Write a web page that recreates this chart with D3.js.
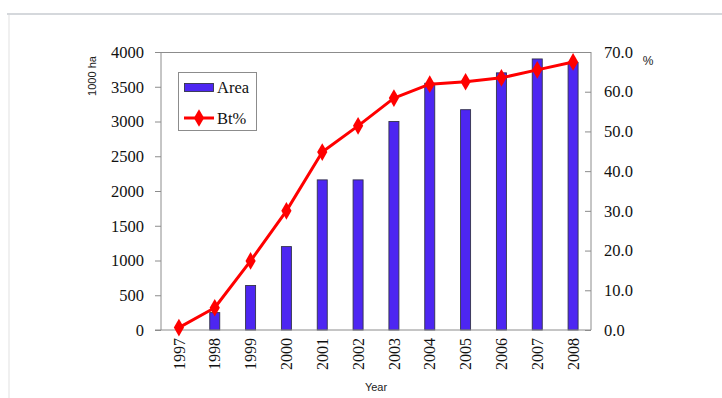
<!DOCTYPE html>
<html>
<head>
<meta charset="utf-8">
<script src="https://cdn.jsdelivr.net/npm/d3@7"></script>
<style>
  html, body { margin: 0; padding: 0; background: #fff; }
  svg { display: block; }
</style>
</head>
<body>
<svg id="chart" width="722" height="398"></svg>
<script>
// Bt cotton planting area (1000 ha) and Bt share (%) by year
const years = ["1997","1998","1999","2000","2001","2002","2003","2004","2005","2006","2007","2008"];
const areaValues = [0, 250, 640, 1200, 2160, 2160, 3000, 3550, 3170, 3700, 3900, 3850];
const btShare = [0.6, 5.6, 17.4, 30.0, 44.8, 51.4, 58.4, 61.9, 62.5, 63.5, 65.5, 67.5];
const areaTicks = [0, 500, 1000, 1500, 2000, 2500, 3000, 3500, 4000];
const shareTicks = [0, 10, 20, 30, 40, 50, 60, 70];

(function () {
  const svg = d3.select("#chart");
  const W = 722, H = 398;
  const plotL = 161, plotR = 591, plotT = 52, plotB = 330;
  const axisGray = "#8c8c8c";
  const serif = "'Liberation Serif', 'Times New Roman', serif";
  const sans = "'Liberation Sans', Arial, sans-serif";

  // page frame lines
  svg.append("rect").attr("x", 7).attr("y", 13).attr("width", W - 7).attr("height", 2).attr("fill", "#d5d8dc");
  svg.append("rect").attr("x", 8).attr("y", 15).attr("width", 2).attr("height", H - 15).attr("fill", "#f0f0f0");

  const x = d3.scaleBand().domain(years).range([plotL, plotR]);
  const yArea = d3.scaleLinear().domain([0, 4000]).range([plotB, plotT]);
  const yShare = d3.scaleLinear().domain([0, 70]).range([plotB, plotT]);

  // plot frame top edge
  svg.append("line").attr("x1", plotL).attr("x2", plotR).attr("y1", plotT + 0.5).attr("y2", plotT + 0.5)
    .attr("stroke", axisGray).attr("stroke-width", 1);

  // bars
  const barW = 10;
  svg.append("g").selectAll("rect").data(years).join("rect")
    .attr("x", (d) => x(d) + x.bandwidth() / 2 - barW / 2)
    .attr("y", (d, i) => yArea(areaValues[i]))
    .attr("width", barW)
    .attr("height", (d, i) => plotB - yArea(areaValues[i]))
    .attr("fill", "#4d26f2")
    .attr("stroke", "#33334a")
    .attr("stroke-width", 0.9)
    .attr("display", (d, i) => areaValues[i] > 0 ? null : "none");

  // left axis
  const gL = svg.append("g").attr("transform", `translate(${plotL},0)`)
    .call(d3.axisLeft(yArea).tickValues(areaTicks).tickSize(6).tickPadding(11).tickFormat(d3.format("d")));
  gL.select(".domain").attr("stroke", axisGray).attr("d", `M0,${plotB}V${plotT}`);
  gL.selectAll(".tick line").attr("stroke", axisGray);
  gL.selectAll("text").attr("font-family", serif).attr("font-size", 16.5).attr("fill", "#111");

  // right axis (ticks point inward)
  const gR = svg.append("g").attr("transform", `translate(${plotR},0)`)
    .call(d3.axisRight(yShare).tickValues(shareTicks).tickSize(-6).tickPadding(13).tickFormat(d3.format(".1f")));
  gR.select(".domain").attr("stroke", axisGray).attr("d", `M0,${plotB}V${plotT}`);
  gR.selectAll(".tick line").attr("stroke", axisGray);
  gR.selectAll("text").attr("font-family", serif).attr("font-size", 16.5).attr("fill", "#111");

  // bottom axis
  const gB = svg.append("g").attr("transform", `translate(0,${plotB})`)
    .call(d3.axisBottom(x).tickSize(0).tickPadding(0));
  gB.select(".domain").attr("stroke", axisGray).attr("d", `M${plotL - 6},0H${plotR}`);
  gB.selectAll(".tick text")
    .attr("font-family", serif).attr("font-size", 16).attr("fill", "#111")
    .attr("transform", "rotate(-90)")
    .attr("text-anchor", "end")
    .attr("x", -8).attr("y", 0).attr("dy", "0.35em");

  // Bt% line with diamond markers
  const cx = (i) => x(years[i]) + x.bandwidth() / 2;
  const line = d3.line().x((d, i) => cx(i)).y((d) => yShare(d));
  svg.append("path").datum(btShare).attr("d", line)
    .attr("fill", "none").attr("stroke", "#ff0000").attr("stroke-width", 3).attr("stroke-linejoin", "round");
  const diamond = d3.symbol().type(d3.symbolDiamond).size(90);
  svg.append("g").selectAll("path").data(btShare).join("path")
    .attr("transform", (d, i) => `translate(${cx(i)},${yShare(d)})`)
    .attr("d", diamond).attr("fill", "#ff0000");

  // axis titles
  svg.append("text").attr("transform", "translate(96,76) rotate(-90)")
    .attr("text-anchor", "middle").attr("font-family", sans).attr("font-size", 11).attr("fill", "#222")
    .text("1000 ha");
  svg.append("text").attr("x", 648).attr("y", 65)
    .attr("text-anchor", "middle").attr("font-family", sans).attr("font-size", 12).attr("fill", "#222")
    .text("%");
  svg.append("text").attr("x", 376).attr("y", 391)
    .attr("text-anchor", "middle").attr("font-family", sans).attr("font-size", 11).attr("fill", "#222")
    .text("Year");

  // legend
  const lg = svg.append("g");
  lg.append("rect").attr("x", 178.5).attr("y", 72.5).attr("width", 78).attr("height", 58)
    .attr("fill", "#fff").attr("stroke", axisGray).attr("stroke-width", 1);
  lg.append("rect").attr("x", 184.5).attr("y", 83.5).attr("width", 29).attr("height", 8)
    .attr("fill", "#4d26f2").attr("stroke", "#33334a").attr("stroke-width", 0.9);
  lg.append("text").attr("x", 217).attr("y", 93).attr("font-family", serif).attr("font-size", 16.5).attr("fill", "#111").text("Area");
  lg.append("line").attr("x1", 184).attr("x2", 214).attr("y1", 118).attr("y2", 118)
    .attr("stroke", "#ff0000").attr("stroke-width", 3);
  lg.append("path").attr("transform", "translate(199,118)").attr("d", diamond).attr("fill", "#ff0000");
  lg.append("text").attr("x", 217).attr("y", 124).attr("font-family", serif).attr("font-size", 16.5).attr("fill", "#111").text("Bt%");
})();
</script>
</body>
</html>
